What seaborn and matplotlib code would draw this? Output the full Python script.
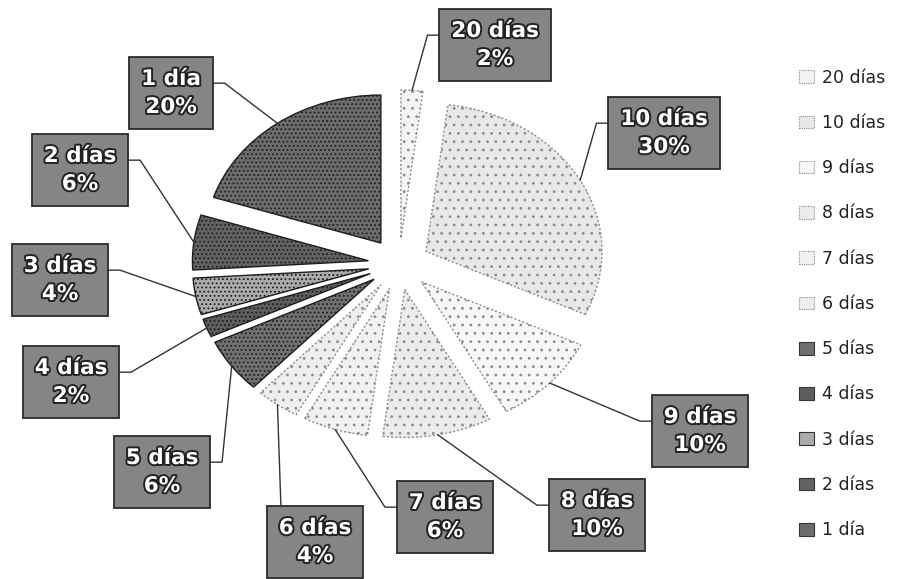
import matplotlib
matplotlib.use("Agg")
import matplotlib.pyplot as plt
import matplotlib.patches as mpatches
import matplotlib.patheffects as pe
import numpy as np
import seaborn as sns

# ── Data ──────────────────────────────────────────────────────────────────────
CATEGORIES = ["20 días", "10 días", "9 días", "8 días", "7 días", "6 días",
              "5 días", "4 días", "3 días", "2 días", "1 día"]
PERCENTS = [2, 30, 10, 10, 6, 4, 6, 2, 4, 6, 20]

# ── Style ─────────────────────────────────────────────────────────────────────
COLORS = ["#f4f4f4", "#e8e8e8", "#f7f7f7", "#ececec", "#f1f1f1", "#eeeeee",
          "#707070", "#5e5e5e", "#ababab", "#626262", "#6c6c6c"]
LIGHT = [True, True, True, True, True, True, False, False, False, False, False]
BOX_COLOR = "#858585"
EXPLODE = 0.175

# label box centres (figure pixels from top-left) and which side the leader joins
LABEL_PX = [(495, 45), (664, 133), (700, 431), (597, 515), (445, 517),
            (315, 542), (162, 472), (71, 382), (60, 280), (80, 170), (171, 93)]
LABEL_SIDE = ["left", "left", "left", "left", "left", "top",
              "right", "right", "right", "right", "right"]

W, H = 910, 579
CX, CY = 399, 264          # pie centre in pixels
RX, RY = 176, 148          # pie radius in pixels (scan is stretched)

sns.set_theme(style="white")
plt.rcParams["font.family"] = ["DejaVu Sans"]
plt.rcParams["hatch.linewidth"] = 0.8


def px_to_data(px, py):
    return (px - CX) / RX, (CY - py) / RY


fig = plt.figure(figsize=(W / 100, H / 100), dpi=100)
ax = fig.add_axes([0, 0, 1, 1])

wedges, _ = ax.pie(PERCENTS, colors=COLORS, startangle=90, counterclock=False,
                   explode=[EXPLODE] * len(PERCENTS), radius=1,
                   wedgeprops={"linewidth": 1.0})
for w, light in zip(wedges, LIGHT):
    if light:
        w.set_edgecolor("#8c8c8c")
        w.set_linestyle((0, (1.5, 1.5)))
        w.set_hatch("..")
    else:
        w.set_edgecolor("#1e1e1e")
        w.set_hatch("....")

ax.set_aspect("auto")
ax.set_xlim(-CX / RX, (W - CX) / RX)
ax.set_ylim((CY - H) / RY, CY / RY)
ax.axis("off")

# ── Labels with leader lines ──────────────────────────────────────────────────
texts = []
for cat, pct, (lx, ly) in zip(CATEGORIES, PERCENTS, LABEL_PX):
    x, y = px_to_data(lx, ly)
    t = ax.text(x, y, f"{cat}\n{pct}%", ha="center", va="center",
                fontsize=15.5, fontweight="bold", color="white",
                linespacing=1.5,
                bbox=dict(boxstyle="square,pad=0.55", facecolor=BOX_COLOR,
                          edgecolor="#2b2b2b", linewidth=1.3),
                path_effects=[pe.withStroke(linewidth=2.8, foreground="#222222")],
                zorder=5)
    texts.append(t)

fig.canvas.draw()
inv = ax.transData.inverted()
for w, t, side in zip(wedges, texts, LABEL_SIDE):
    theta = np.deg2rad((w.theta1 + w.theta2) / 2)
    wx, wy = (1 + EXPLODE) * np.cos(theta), (1 + EXPLODE) * np.sin(theta)
    bb = t.get_bbox_patch().get_window_extent()
    if side == "top":
        ex, ey = bb.x0 + 14, bb.y1
        pts = [(wx, wy), tuple(inv.transform((ex, ey)))]
    else:
        ey = bb.y1 - 26
        ex = bb.x0 if side == "left" else bb.x1
        elbow = ex - 12 if side == "left" else ex + 12
        pts = [(wx, wy), tuple(inv.transform((elbow, ey))),
               tuple(inv.transform((ex, ey)))]
    xs, ys = zip(*pts)
    ax.plot(xs, ys, color="#333333", linewidth=1.0, zorder=4)

# ── Legend ────────────────────────────────────────────────────────────────────
handles = []
for c, light in zip(COLORS, LIGHT):
    handles.append(mpatches.Patch(facecolor=c,
                                  edgecolor="#8c8c8c" if light else "#333333",
                                  linestyle=(0, (1, 1)) if light else "-",
                                  linewidth=0.8))
fig.legend(handles, CATEGORIES, loc="upper left",
           bbox_to_anchor=(790 / W, 1 - 60 / H), frameon=False,
           fontsize=12.5, labelspacing=1.57, handlelength=0.9,
           handleheight=0.75, handletextpad=0.45, borderpad=0,
           labelcolor="#222222")

fig.savefig("out.png", dpi=100, facecolor="white")
